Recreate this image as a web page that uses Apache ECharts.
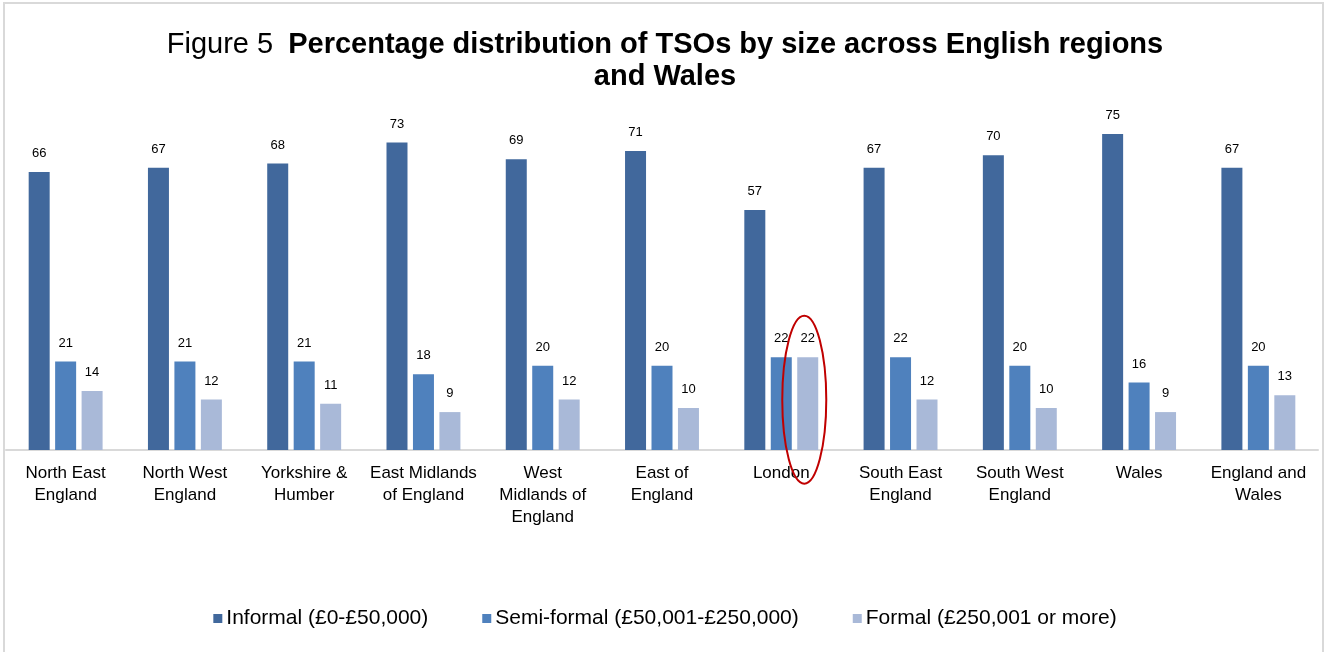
<!DOCTYPE html>
<html>
<head>
<meta charset="utf-8">
<script src="https://cdn.jsdelivr.net/npm/echarts@6/dist/echarts.min.js"></script>
<style>
  html, body { margin: 0; padding: 0; background: #fff; }
  #frame {
    position: absolute; left: 3px; top: 2px; width: 1321px; height: 660px;
    border: 2px solid #d9d9d9; border-bottom: none; box-sizing: border-box;
  }
  #chart { position: absolute; left: 0; top: 0; width: 1330px; height: 652px; }
</style>
</head>
<body>
<div id="frame"></div>
<div id="chart"></div>
<script>
const regions = [
  'North East\nEngland', 'North West\nEngland', 'Yorkshire &\nHumber',
  'East Midlands\nof England', 'West\nMidlands of\nEngland', 'East of\nEngland',
  'London', 'South East\nEngland', 'South West\nEngland', 'Wales',
  'England and\nWales'
]
const informal = [66, 67, 68, 73, 69, 71, 57, 67, 70, 75, 67]
const semiFormal = [21, 21, 21, 18, 20, 20, 22, 22, 20, 16, 20]
const formal = [14, 12, 11, 9, 12, 10, 22, 12, 10, 9, 13]

const seriesNames = [
  'Informal (£0-£50,000)',
  'Semi-formal (£50,001-£250,000)',
  'Formal (£250,001 or more)'
]
const colors = ['#41689c', '#4f81bd', '#a9b9d8']

const FONT = 'Liberation Sans, Arial, sans-serif'

function barSeries(name, data, color) {
  return {
    name,
    type: 'bar',
    data,
    barWidth: 21,
    barGap: '26%',
    itemStyle: { color },
    label: {
      show: true,
      position: 'top',
      distance: 12,
      color: '#000',
      fontSize: 13,
      fontFamily: FONT
    },
    emphasis: { disabled: true }
  }
}

const chart = echarts.init(document.getElementById('chart'))

chart.setOption({
  animation: false,
  textStyle: { fontFamily: FONT },
  title: {
    left: 'center',
    top: 24,
    text: '{n|Figure 5}   {b|Percentage distribution of TSOs by size across English regions}\n{b|and Wales}',
    textStyle: {
      align: 'center',
      rich: {
        n: { fontSize: 29, fontFamily: FONT, fontWeight: 'normal', color: '#000', lineHeight: 32 },
        b: { fontSize: 29, fontFamily: FONT, fontWeight: 'bold', color: '#000', lineHeight: 32 }
      }
    }
  },
  legend: {
    bottom: 18,
    left: 'center',
    itemWidth: 9,
    itemHeight: 9,
    itemGap: 54,
    icon: 'rect',
    textStyle: { fontSize: 21, color: '#000', fontFamily: FONT, padding: [0, 0, 0, -1] },
    data: seriesNames
  },
  grid: { left: 6, right: 12, top: 113, bottom: 202, containLabel: false },
  xAxis: {
    type: 'category',
    data: regions,
    axisLine: { lineStyle: { color: '#d9d9d9', width: 2 } },
    axisTick: { show: false },
    axisLabel: {
      interval: 0,
      color: '#000',
      fontSize: 17,
      lineHeight: 22,
      margin: 12,
      fontFamily: FONT
    }
  },
  yAxis: {
    type: 'value',
    min: 0,
    max: 80,
    show: false,
    splitLine: { show: false }
  },
  series: [
    barSeries(seriesNames[0], informal, colors[0]),
    barSeries(seriesNames[1], semiFormal, colors[1]),
    barSeries(seriesNames[2], formal, colors[2])
  ]
})

// red ellipse highlighting London's formal bar
const london = regions.indexOf('London')
const base = chart.convertToPixel({ seriesIndex: 2 }, [london, 0])
const topPt = chart.convertToPixel({ seriesIndex: 2 }, [london, formal[london]])
chart.setOption({
  graphic: [{
    type: 'ellipse',
    shape: { cx: base[0] + 23, cy: (base[1] + topPt[1]) / 2 - 4, rx: 22, ry: 84 },
    style: { fill: 'none', stroke: '#c00000', lineWidth: 2 },
    z: 100
  }]
})
</script>
</body>
</html>
